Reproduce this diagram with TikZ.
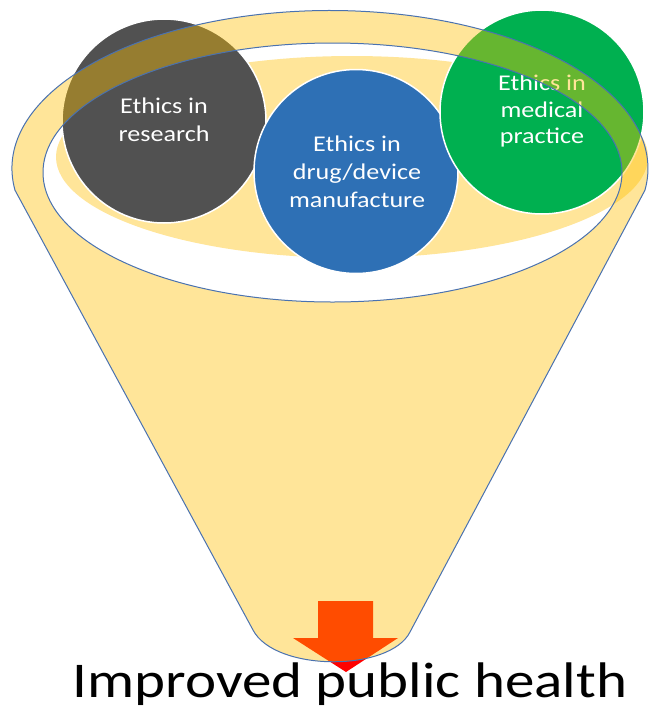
\documentclass[tikz,border=0pt]{standalone}
\usepackage{fontspec}
\newfontfamily\circfont[FakeStretch=1.16]{Carlito}
\newfontfamily\bigfont[FakeStretch=1.18]{Carlito}
\definecolor{goldc}{HTML}{FFC000}
\definecolor{rimblue}{HTML}{4A72B0}
\definecolor{darkc}{HTML}{515151}
\definecolor{bluec}{HTML}{2E70B5}
\definecolor{greenc}{HTML}{00B050}
\definecolor{arrowred}{HTML}{FF0000}
\begin{document}
\begin{tikzpicture}[x=1pt,y=1pt,yscale=-1,
  bubble/.style={circle, minimum size=204pt, inner sep=0pt, draw=white, line width=1.5pt},
  lbl/.style={text=white, font=\circfont\fontsize{22.5}{26}\selectfont, anchor=base, inner sep=0pt},
  funnelfill/.style={fill=goldc, fill opacity=0.4, even odd rule},
  outline/.style={draw=rimblue, line width=1pt},
  backfill/.style={fill=goldc, fill opacity=0.4}]
\useasboundingbox (0,0) rectangle (650,713);
\fill[white] (0,0) rectangle (650,713);
% arrow (behind funnel)
\fill[arrowred] (318,601) -- (373,601) -- (373,638) -- (398,638) -- (346,672) -- (293,638) -- (318,638) -- cycle;
% inner back wall of funnel
\fill[backfill] (352,157) ellipse [x radius=296, y radius=101];
% circles
\node[bubble, fill=darkc] (c1) at (164,121) {};
\node[bubble, fill=bluec] (c2) at (356,171.5) {};
\node[bubble, fill=greenc] (c3) at (542,112) {};
% labels
\node[lbl] (r1) at (164,113) {Ethics in};
\node[lbl] (r2) at (164,141.5) {research};
\node[lbl] (d1) at (357,151.5) {Ethics in};
\node[lbl] (d2) at (357,179.5) {drug/device};
\node[lbl] (d3) at (357,207) {manufacture};
\node[lbl] (m1) at (542,90.5) {Ethics in};
\node[lbl] (m2) at (542,117) {medical};
\node[lbl] (m3) at (542,143) {practice};
% funnel body and rim (semi-transparent, over the circles)
\path[funnelfill] (15,190.2) arc[start angle=172.1, end angle=367.9, x radius=318, y radius=158]
  -- (410,632) .. controls (390,672) and (275,672) .. (253,630) -- cycle
  (332.5,172.5) ellipse [x radius=289.5, y radius=129.5];
\draw[outline] (15,190.2) arc[start angle=172.1, end angle=367.9, x radius=318, y radius=158]
  -- (410,632) .. controls (390,672) and (275,672) .. (253,630) -- cycle;
\draw[outline] (332.5,172.5) ellipse [x radius=289.5, y radius=129.5];
% result text
\node[font=\bigfont\fontsize{50}{60}\selectfont, anchor=base, inner sep=0pt] (res) at (350,697) {Improved public health};
\end{tikzpicture}
\end{document}
